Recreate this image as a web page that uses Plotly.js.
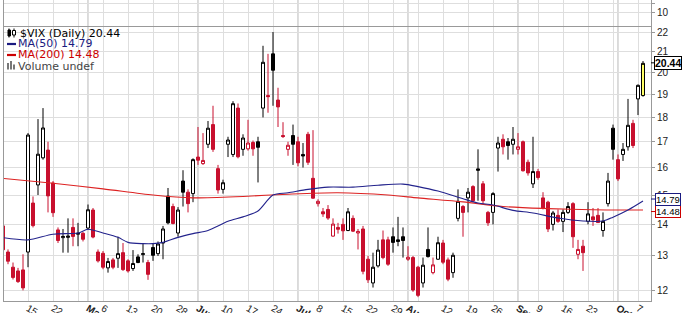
<!DOCTYPE html>
<html><head><meta charset="utf-8">
<script src="https://cdn.plot.ly/plotly-3.0.1.min.js"></script>
<style>html,body{margin:0;padding:0;background:#fff}#chart{width:686px;height:313px}</style>
</head><body><div id="chart"></div>
<script>
// ---- data ----
const dates = [
 '04-08','04-09','04-10','04-11','04-12','04-15','04-16','04-17','04-18','04-19','04-22','04-23','04-24','04-25','04-26','04-29','04-30',
 '05-01','05-02','05-03','05-06','05-07','05-08','05-09','05-10','05-13','05-14','05-15','05-16','05-17','05-20','05-21','05-22','05-23','05-24','05-28','05-29','05-30','05-31',
 '06-03','06-04','06-05','06-06','06-07','06-10','06-11','06-12','06-13','06-14','06-17','06-18','06-19','06-20','06-21','06-24','06-25','06-26','06-27','06-28',
 '07-01','07-02','07-03','07-05','07-08','07-09','07-10','07-11','07-12','07-15','07-16','07-17','07-18','07-19','07-22','07-23','07-24','07-25','07-26','07-29','07-30','07-31',
 '08-01','08-02','08-05','08-06','08-07','08-08','08-09','08-12','08-13','08-14','08-15','08-16','08-19','08-20','08-21','08-22','08-23','08-26','08-27','08-28','08-29','08-30',
 '09-03','09-04','09-05','09-06','09-09','09-10','09-11','09-12','09-13','09-16','09-17','09-18','09-19','09-20','09-23','09-24','09-25','09-26','09-27','09-30',
 '10-01','10-02','10-03','10-04','10-07','10-08'];
const open = [
 13.95,13.12,12.66,12.55,12.58,13.12,14.72,15.36,16.37,16.67,15.43,13.82,13.57,13.58,13.90,13.68,13.71,
 13.88,14.48,13.12,13.08,12.64,12.88,12.93,13.10,12.85,12.62,12.97,13.04,12.80,13.26,13.07,13.40,14.96,14.60,13.72,15.50,15.10,15.05,
 16.40,16.15,16.90,17.70,15.96,15.20,16.90,16.50,18.40,16.70,16.72,16.97,17.00,18.40,18.95,20.90,18.75,17.25,16.70,17.25,
 17.00,16.50,17.30,15.60,14.70,14.42,14.50,13.62,13.90,14.00,13.80,14.20,13.72,13.85,12.90,12.20,12.70,13.50,13.50,13.60,13.50,13.60,
 12.90,12.95,12.66,12.20,13.20,12.50,12.90,13.40,12.88,12.50,14.20,14.60,14.90,15.30,15.95,15.40,14.40,14.40,16.75,17.10,17.00,16.90,
 16.70,17.00,16.20,15.40,15.85,14.90,14.75,14.00,14.30,14.10,14.40,14.70,13.05,13.30,14.10,14.25,14.30,13.80,14.70,17.55,
 16.30,16.50,16.80,17.75,18.80,18.95];
const high = [
 14.05,13.20,12.80,12.64,13.05,17.35,14.95,17.93,18.40,17.00,15.50,13.90,13.85,14.20,14.20,14.05,13.75,
 14.67,14.55,13.20,13.15,12.94,12.94,13.60,13.40,12.90,13.18,13.05,13.40,12.88,13.40,13.45,13.95,15.25,14.70,14.58,15.90,15.20,16.35,
 17.60,17.35,17.85,18.50,16.10,15.55,17.20,18.70,18.60,17.30,17.90,17.05,17.20,21.30,20.90,22.00,19.30,17.80,17.00,17.70,
 17.20,16.95,17.40,17.47,14.85,14.55,14.65,14.20,14.05,14.20,14.55,14.30,13.85,13.95,13.00,13.10,13.50,13.80,13.60,13.90,14.25,13.90,
 13.30,13.00,12.70,12.95,13.90,12.95,13.60,13.50,12.95,13.10,15.20,14.65,15.25,15.35,16.70,15.50,14.45,15.10,17.20,17.30,17.15,17.60,
 17.35,17.05,16.30,17.20,15.95,15.10,14.80,14.45,14.50,14.50,14.75,14.75,13.50,13.50,14.75,14.55,14.55,14.40,15.80,17.70,
 16.50,16.95,18.80,17.90,19.45,20.55];
const low = [
 13.10,12.75,12.30,12.20,11.99,12.66,13.90,15.00,16.30,14.40,14.25,13.40,13.10,13.10,13.30,13.30,13.45,
 13.82,13.55,12.80,12.60,12.50,12.60,12.64,12.55,12.50,12.55,12.78,12.80,12.29,12.85,13.00,12.90,14.00,14.00,13.60,14.60,14.40,14.75,
 16.10,16.10,16.75,16.60,15.05,15.05,16.40,16.40,16.35,16.45,16.65,16.45,15.45,18.00,18.20,18.50,17.60,17.15,16.45,16.10,
 16.05,16.00,16.10,14.87,14.60,14.25,14.15,13.60,13.70,13.50,13.78,13.75,13.20,12.45,12.20,12.07,12.65,12.90,12.70,13.10,13.30,12.95,
 12.85,11.95,11.80,12.07,12.95,12.45,12.88,12.75,12.25,12.35,14.10,13.60,14.40,14.75,14.80,14.70,13.95,14.00,15.85,16.50,16.30,16.50,
 16.50,15.85,15.70,15.25,15.55,14.50,13.75,13.80,14.05,13.75,14.35,13.25,12.90,12.55,14.00,13.95,14.05,13.60,14.60,16.30,
 15.50,16.25,16.65,16.75,18.10,18.90];
const close = [
 13.19,12.84,12.36,12.24,12.06,17.27,13.96,16.51,17.56,14.97,14.39,13.48,13.61,13.62,13.61,13.71,13.52,
 14.49,13.59,12.85,12.66,12.83,12.66,13.07,12.59,12.55,12.77,12.80,13.07,12.45,13.02,13.37,13.85,14.05,14.03,14.48,15.10,14.70,16.30,
 16.28,16.27,17.55,16.70,15.18,15.44,17.07,18.59,16.41,17.15,16.95,16.72,16.78,20.49,18.90,20.11,18.45,17.21,16.86,16.90,
 16.18,16.44,16.20,14.89,14.78,14.35,14.21,14.01,13.84,13.79,14.42,13.78,13.77,12.54,12.29,12.66,13.18,12.95,12.75,13.42,13.45,13.48,
 12.96,12.00,11.85,12.72,12.98,12.73,13.41,12.81,12.31,13.02,14.78,14.40,15.10,14.80,15.90,14.80,14.05,15.05,16.95,16.80,16.85,17.10,
 16.80,15.88,15.80,15.85,15.63,14.55,13.85,14.38,14.10,14.40,14.60,13.60,13.20,13.10,14.35,14.15,14.06,14.10,15.50,16.70,
 15.58,16.70,17.67,16.85,19.41,20.44];
const priorClose = 13.92;

const ma50Dates  = ['04-08','04-15','04-22','04-29','05-01','05-06','05-09','05-13','05-16','05-20','05-22','05-28','05-31','06-05','06-11','06-14','06-19','06-24','06-27','07-03','07-10','07-17','07-24','07-31','08-05','08-09','08-16','08-21','08-26','08-30','09-06','09-13','09-20','09-26','09-30','10-03','10-08'];
const ma50Values = [13.57,13.50,13.68,13.72,13.84,13.72,13.58,13.42,13.38,13.38,13.42,13.58,13.70,13.80,14.10,14.25,14.45,15.00,15.08,15.20,15.28,15.28,15.35,15.39,15.30,15.14,14.87,14.72,14.65,14.47,14.38,14.21,14.11,14.11,14.24,14.48,14.79];
const ma200Dates  = ['04-08','04-22','05-06','05-20','05-31','06-14','06-27','07-12','07-26','08-05','08-16','08-28','09-11','09-24','10-08'];
const ma200Values = [15.60,15.42,15.22,15.00,14.90,14.95,15.03,15.08,15.00,14.90,14.76,14.60,14.53,14.49,14.48];

const gridDates  = ['04-15','04-22','04-29','05-01','05-06','05-13','05-20','05-28','06-03','06-10','06-17','06-24','07-01','07-08','07-15','07-22','07-29','08-01','08-05','08-12','08-19','08-26','09-03','09-09','09-16','09-23','09-30','10-01','10-07'];
const gridLabels = ['15','22','','<b>May</b>','6','13','20','28','<b>Jun</b>','10','17','24','<b>Jul</b>','8','15','22','29','<b>Aug</b>','','12','19','26','<b>Sep</b>','9','16','23','','<b>Oct</b>','7'];
const monthStarts = ['05-01','06-03','07-01','08-01','09-03','10-01'];
const priceTicks = [12,13,14,15,16,17,18,19,20,21,22];
const volumeTicks = [10,20];
const volumeTickText = ['10',''];
const lastValue = 20.44, ma50Last = 14.79, ma200Last = 14.48;

// ---- build ----
const RED = '#c8102e', BLACK = '#000000', NAVY = '#23238c', MARED = '#dd2222';
const idx = d => dates.indexOf(d);
const blackIdx = [], redIdx = [];
for (let i = 0; i < dates.length - 1; i++) {
  const prev = i === 0 ? priorClose : close[i - 1];
  (close[i] >= prev ? blackIdx : redIdx).push(i);
}
const lastIdx = [dates.length - 1];
function candles(ids, color, upFill, downFill) {
  return {
    type: 'candlestick', x: ids,
    open: ids.map(i => open[i]), high: ids.map(i => high[i]),
    low: ids.map(i => low[i]), close: ids.map(i => close[i]),
    increasing: {line: {color: color, width: 1}, fillcolor: upFill},
    decreasing: {line: {color: color, width: 1}, fillcolor: downFill},
    whiskerwidth: 0, hoverinfo: 'skip', showlegend: false
  };
}
const traces = [
  candles(blackIdx, BLACK, '#ffffff', BLACK),
  candles(redIdx, RED, '#ffffff', RED),
  candles(lastIdx, BLACK, '#ffff66', '#ffff66'),
  {type: 'scatter', mode: 'lines', x: ma200Dates.map(idx), y: ma200Values,
   line: {color: MARED, width: 1.1, shape: 'spline', smoothing: 0.8}, hoverinfo: 'skip', showlegend: false},
  {type: 'scatter', mode: 'lines', x: ma50Dates.map(idx), y: ma50Values,
   line: {color: NAVY, width: 1.1, shape: 'spline', smoothing: 0.8}, hoverinfo: 'skip', showlegend: false},
  {type: 'scatter', mode: 'markers', x: [], y: [], yaxis: 'y2', hoverinfo: 'skip', showlegend: false}
];

const PW = 647, PH = 301, PL = 4;
const px = p => (p - PL) / PW;
const py = p => (PH - p) / PH;
const tickFont = {family: 'Liberation Sans, Arial, sans-serif', size: 10, color: '#222'};
const legFont = {family: 'DejaVu Sans, Verdana, sans-serif', size: 11};

const annotations = [
  {text: '$VIX (Daily) ' + lastValue.toFixed(2), font: Object.assign({color: '#000'}, legFont), y: py(33), x: px(18.5)},
  {text: 'MA(50) ' + ma50Last.toFixed(2), font: Object.assign({color: '#1a1a80'}, legFont), y: py(44), x: px(16.5)},
  {text: 'MA(200) ' + ma200Last.toFixed(2), font: Object.assign({color: '#cc0000'}, legFont), y: py(55), x: px(16.5)},
  {text: 'Volume undef', font: Object.assign({color: '#444'}, legFont), y: py(66), x: px(16.5)}
].map(a => Object.assign({xref: 'paper', yref: 'paper', xanchor: 'left', yanchor: 'middle', showarrow: false, borderpad: 0}, a));

function valueBox(v, text, border, size, shift) {
  return {xref: 'paper', yref: 'y', x: 1, y: Math.log10(v), text: text, yshift: shift,
    showarrow: true, arrowhead: 0, arrowwidth: 1, arrowcolor: border, ax: 17, ay: 0,
    bordercolor: border, borderwidth: 1, borderpad: 0, bgcolor: '#ffffff',
    font: {family: 'Liberation Sans, Arial, sans-serif', size: size, color: '#000'}};
}
annotations.push(valueBox(ma200Last, ma200Last.toFixed(2), '#cc0000', 9.5, -1.5));
annotations.push(valueBox(ma50Last, ma50Last.toFixed(2), '#1a1a80', 9.5, 2));
annotations.push(valueBox(lastValue, '<b>' + lastValue.toFixed(2) + '</b>', '#000', 10.5, 0.5));

const shapes = monthStarts.map(d => ({type: 'line', xref: 'x', yref: 'paper',
  x0: idx(d), x1: idx(d), y0: 0, y1: 1, line: {color: '#b4b4b4', width: 1}, layer: 'between'}));
// legend icons
const icon = (o) => Object.assign({xref: 'paper', yref: 'paper', layer: 'above'}, o);
shapes.push(icon({type: 'line', x0: px(9), x1: px(9), y0: py(28.5), y1: py(37.5), line: {color: '#000', width: 1}}));
shapes.push(icon({type: 'rect', x0: px(8), x1: px(10.5), y0: py(30), y1: py(36), line: {color: '#000', width: 1}, fillcolor: '#000'}));
shapes.push(icon({type: 'line', x0: px(14), x1: px(14), y0: py(28.5), y1: py(37.5), line: {color: '#000', width: 1}}));
shapes.push(icon({type: 'rect', x0: px(12.5), x1: px(15.5), y0: py(30.5), y1: py(35), line: {color: '#000', width: 1}, fillcolor: '#fff'}));
shapes.push(icon({type: 'line', x0: px(7), x1: px(16), y0: py(44), y1: py(44), line: {color: '#1a1a80', width: 2.2}}));
shapes.push(icon({type: 'line', x0: px(7), x1: px(16), y0: py(55), y1: py(55), line: {color: '#cc0000', width: 2.2}}));
shapes.push(icon({type: 'rect', x0: px(7), x1: px(9), y0: py(69.5), y1: py(63), line: {width: 0}, fillcolor: '#777'}));
shapes.push(icon({type: 'rect', x0: px(10), x1: px(12), y0: py(69.5), y1: py(61), line: {width: 0}, fillcolor: '#777'}));
shapes.push(icon({type: 'rect', x0: px(13), x1: px(15), y0: py(69.5), y1: py(64.5), line: {width: 0}, fillcolor: '#777'}));

// main panel: from pixel 26.5 down to PH; the log range keeps 980 px per decade
const mainTop = 26.5;
const layout = {
  width: 686, height: 313,
  margin: {l: PL, r: 686 - PL - PW, t: 0, b: 313 - PH, pad: 0},
  paper_bgcolor: '#ffffff', plot_bgcolor: '#ffffff',
  showlegend: false, hovermode: false,
  boxgap: 0.4, boxgroupgap: 0, boxmode: 'overlay',
  xaxis: {type: 'linear', range: [0.2, 129.6], tickmode: 'array',
    tickvals: gridDates.map(idx), ticktext: gridLabels,
    showgrid: true, gridcolor: '#dedede', gridwidth: 1, zeroline: false,
    showline: true, linecolor: '#999', mirror: 'all', ticks: '',
    ticklabelstandoff: -3,
    tickfont: tickFont, rangeslider: {visible: false}, fixedrange: true, anchor: 'y'},
  yaxis: {type: 'log', domain: [0, (PH - mainTop) / PH],
    range: [Math.log10(12) - (PH - 290) / 980, Math.log10(12) + (290 - mainTop) / 980], side: 'right',
    tickmode: 'array', tickvals: priceTicks, ticktext: priceTicks.map(String),
    showgrid: true, gridcolor: '#dedede', zeroline: false,
    showline: true, linecolor: '#999', mirror: true, ticks: 'outside', ticklen: 3, tickcolor: '#999',
    tickfont: tickFont, fixedrange: true, anchor: 'x'},
  yaxis2: {type: 'linear', domain: [(PH - 26) / PH, 1], range: [-5.1, 23.3], side: 'right',
    tickmode: 'array', tickvals: volumeTicks, ticktext: volumeTickText,
    showgrid: true, gridcolor: '#dedede', zeroline: false,
    showline: true, linecolor: '#999', mirror: true, ticks: 'outside', ticklen: 3, tickcolor: '#999',
    tickfont: tickFont, fixedrange: true, anchor: 'x'},
  annotations: annotations,
  shapes: shapes
};
Plotly.newPlot('chart', traces, layout, {staticPlot: true, displayModeBar: false});
</script>
</body></html>
